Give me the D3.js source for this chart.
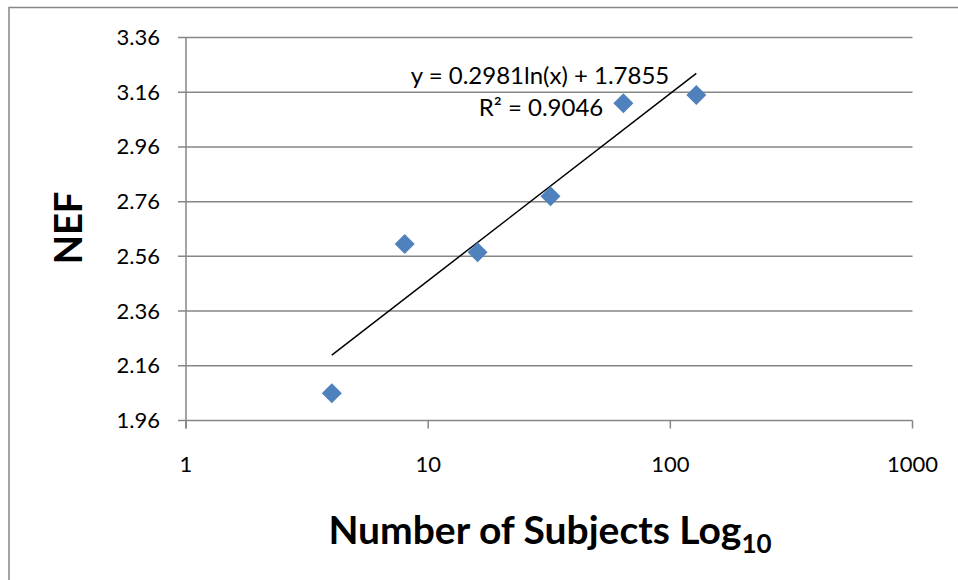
<!DOCTYPE html>
<html>
<head>
<meta charset="utf-8">
<script src="https://cdn.jsdelivr.net/npm/d3@7"></script>
<style>
  body { margin: 0; background: #fff; }
  svg { display: block; font-family: Lato, "Open Sans", sans-serif; }
</style>
</head>
<body>
<svg id="chart" width="958" height="580"></svg>
<script>
// number of subjects vs NEF
var subjects = [4, 8, 16, 32, 64, 128];
var nefValues = [2.06, 2.605, 2.575, 2.78, 3.12, 3.15];
// log trendline end points
var trendX = [4, 128];
var trendY = [2.199, 3.229];
var yTicks = [1.96, 2.16, 2.36, 2.56, 2.76, 2.96, 3.16, 3.36];
var xTicks = [1, 10, 100, 1000];

var svg = d3.select("#chart");
var plotLeft = 186, plotRight = 912.5, plotTop = 37.5, plotBottom = 420.5;

// outer frame (only top and left edges show)
svg.append("rect")
    .attr("x", 9).attr("y", 7.5)
    .attr("width", 1000).attr("height", 1000)
    .attr("fill", "none")
    .attr("stroke", "#868686")
    .attr("stroke-width", 1.5);

var x = d3.scaleLog().domain([1, 1000]).range([plotLeft, plotRight]);
var y = d3.scaleLinear().domain([1.96, 3.36]).range([plotBottom, plotTop]);

// horizontal gridlines
svg.append("g")
    .selectAll("line")
    .data(yTicks)
    .enter().append("line")
    .attr("x1", plotLeft - 8).attr("x2", plotRight)
    .attr("y1", d => y(d)).attr("y2", d => y(d))
    .attr("stroke", "#868686")
    .attr("stroke-width", 1.5);

// y axis line
svg.append("line")
    .attr("x1", plotLeft).attr("x2", plotLeft)
    .attr("y1", plotTop).attr("y2", plotBottom + 8)
    .attr("stroke", "#868686").attr("stroke-width", 1.5);

// x tick marks
svg.append("g")
    .selectAll("line")
    .data(xTicks)
    .enter().append("line")
    .attr("x1", d => x(d)).attr("x2", d => x(d))
    .attr("y1", plotBottom).attr("y2", plotBottom + 8)
    .attr("stroke", "#868686").attr("stroke-width", 1.5);

// tick labels
svg.append("g")
    .selectAll("text")
    .data(yTicks)
    .enter().append("text")
    .attr("x", 160)
    .attr("y", d => y(d) + 7.5)
    .attr("text-anchor", "end")
    .attr("font-size", 22)
    .text(d => d.toFixed(2));

svg.append("g")
    .selectAll("text")
    .data(xTicks)
    .enter().append("text")
    .attr("x", d => x(d))
    .attr("y", 472)
    .attr("text-anchor", "middle")
    .attr("font-size", 22)
    .text(d => d);

// trendline
var line = d3.line()
    .x(d => x(d[0]))
    .y(d => y(d[1]));
svg.append("path")
    .datum(d3.zip(trendX, trendY))
    .attr("d", line)
    .attr("fill", "none")
    .attr("stroke", "#000")
    .attr("stroke-width", 1.5);

// diamond markers
var diamond = d3.symbol().type(d3.symbolSquare).size(200);
svg.append("g")
    .selectAll("path")
    .data(d3.zip(subjects, nefValues))
    .enter().append("path")
    .attr("d", diamond)
    .attr("transform", d => "translate(" + x(d[0]) + "," + y(d[1]) + ") rotate(45)")
    .attr("fill", "#4F81BD");

// trendline equation
var eq = svg.append("text")
    .attr("text-anchor", "middle")
    .attr("font-size", 24);
eq.append("tspan").attr("x", 540).attr("y", 84).text("y = 0.2981ln(x) + 1.7855");
eq.append("tspan").attr("x", 541).attr("y", 116).text("R\u00B2 = 0.9046");

// axis titles
svg.append("text")
    .attr("transform", "translate(82,228) rotate(-90)")
    .attr("text-anchor", "middle")
    .attr("font-size", 38)
    .attr("font-weight", "bold")
    .text("NEF");

var xt = svg.append("text")
    .attr("x", 550)
    .attr("y", 544)
    .attr("text-anchor", "middle")
    .attr("font-size", 39)
    .attr("font-weight", "bold");
xt.append("tspan").text("Number of Subjects Log");
xt.append("tspan").attr("font-size", 26).attr("dy", 9).text("10");
</script>
</body>
</html>
